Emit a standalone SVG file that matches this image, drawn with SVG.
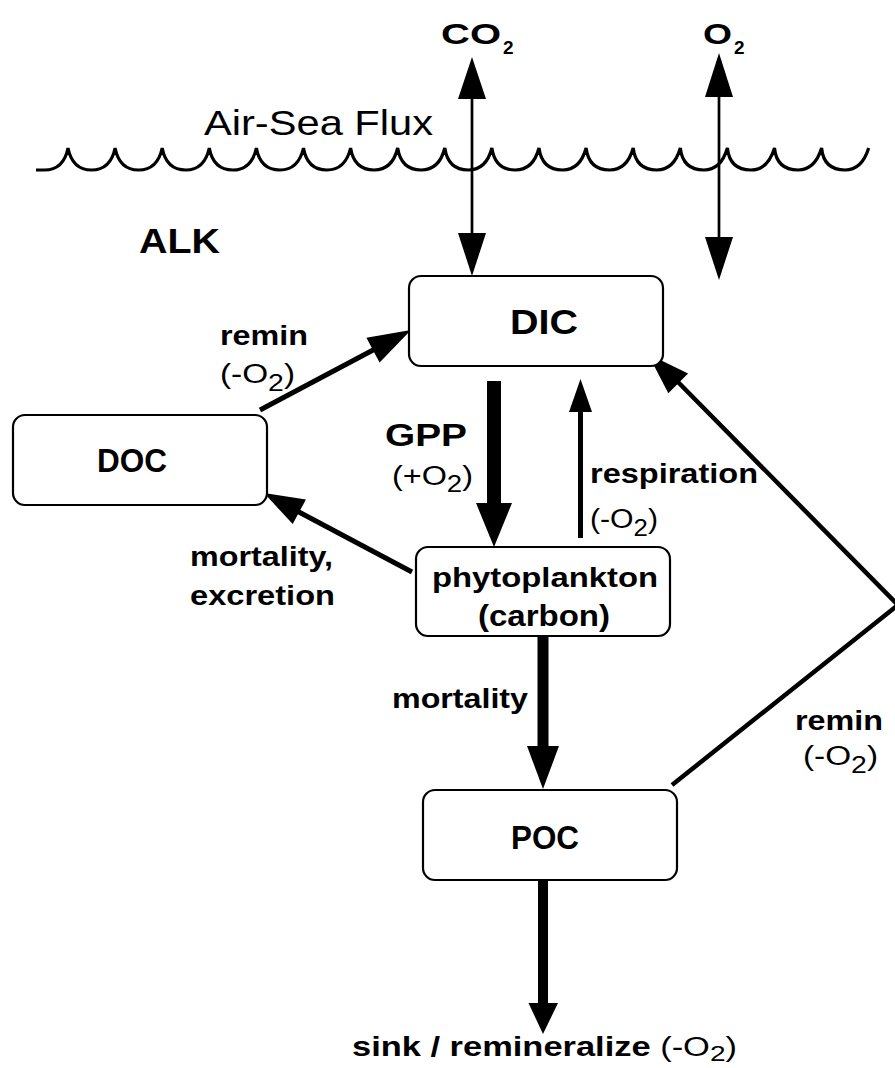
<svg xmlns="http://www.w3.org/2000/svg" width="895" height="1068" viewBox="0 0 895 1068">
<style>
.t{font-family:"Liberation Sans",Arial,Helvetica,sans-serif;fill:#000}
.b{font-weight:bold}
.box{fill:#fff;stroke:#000;stroke-width:2.2}
.ln{fill:none;stroke:#000;stroke-linecap:butt}
.hd{fill:#000;stroke:none}
</style>
<rect width="895" height="1068" fill="#fff"/>
<g id="surface">
<path class="ln" stroke-width="3.2" d="M36,170 L44.5,170 C57,170 65,163 68,148 C71,163 79,170 91.5,170 C104,170 112,163 115.1,148 C118,163 126,170 138.7,170 C151,170 159,163 162.2,148 C165,163 173,170 185.8,170 C198,170 206,163 209.3,148 C212,163 220,170 232.9,170 C245,170 253,163 256.4,148 C259,163 267,170 280,170 C292,170 300,163 303.5,148 C306,163 314,170 327,170 C339,170 347,163 350.6,148 C353,163 361,170 374.1,170 C386,170 394,163 397.7,148 C400,163 408,170 421.2,170 C433,170 441,163 444.8,148 C447,163 455,170 468.3,170 C480,170 488,163 491.9,148 C494,163 502,170 515.4,170 C527,170 535,163 539,148 C541,163 549,170 562.5,170 C574,170 582,163 586.1,148 C588,163 596,170 609.6,170 C621,170 629,163 633.2,148 C635,163 643,170 656.7,170 C668,170 676,163 680.3,148 C682,163 690,170 703.8,170 C715,170 723,163 727.4,148 C729,163 737,170 750.9,170 C762,170 770,163 774.5,148 C776,163 784,170 798,170 C809,170 817,163 821.6,148 C823,163 831,170 845.1,170 C856,170 864,163 868.7,148"/>
<text class="t" x="204" y="135" font-size="35" textLength="229" lengthAdjust="spacingAndGlyphs">Air-Sea Flux</text>
<text class="t b" x="441" y="44" font-size="30" textLength="60" lengthAdjust="spacingAndGlyphs">CO</text>
<text class="t b" x="503" y="54" font-size="19">2</text>
<text class="t b" x="703" y="44" font-size="30" textLength="29" lengthAdjust="spacingAndGlyphs">O</text>
<text class="t b" x="734" y="54" font-size="19">2</text>
</g>
<g id="alk">
<text class="t b" x="139" y="253" font-size="35" textLength="81" lengthAdjust="spacingAndGlyphs">ALK</text>
</g>
<g id="connectors">
<line class="ln" x1="472" y1="98" x2="472" y2="234" stroke-width="2.7"/>
<polygon class="hd" points="472,57 458,99 486,99"/>
<polygon class="hd" points="458,233 486,233 472,276"/>
<line class="ln" x1="719" y1="96" x2="719" y2="238" stroke-width="2.7"/>
<polygon class="hd" points="719,53 705,97 733,97"/>
<polygon class="hd" points="705,237 733,237 719,280"/>
<line class="ln" x1="260" y1="410" x2="375" y2="349" stroke-width="5"/>
<polygon class="hd" points="411,330 366.4,337.7 379.6,362.5"/>
<line class="ln" x1="412" y1="572" x2="297" y2="511" stroke-width="5"/>
<polygon class="hd" points="264,493 305.9,499.5 292.7,524.1"/>
<rect class="hd" x="487" y="381" width="14" height="123"/>
<polygon class="hd" points="476,503 512,503 494,547"/>
<line class="ln" x1="580.5" y1="538" x2="580.5" y2="410" stroke-width="5"/>
<polygon class="hd" points="569,412 592,412 580.5,379"/>
<rect class="hd" x="537.5" y="636" width="11" height="111"/>
<polygon class="hd" points="527,746 559,746 543,789"/>
<polyline class="ln" points="672,785 898,605 676,380" stroke-width="4.5" stroke-linejoin="miter"/>
<polygon class="hd" points="648,354 688.1,373.5 668.3,393.3"/>
<rect class="hd" x="538" y="880" width="10" height="124"/>
<polygon class="hd" points="528.5,1003 558,1003 543,1034"/>
</g>
<g id="labels">
<text class="t b" x="220" y="345" font-size="28" textLength="88" lengthAdjust="spacingAndGlyphs">remin</text>
<text class="t" x="220" y="383" font-size="27" textLength="75" lengthAdjust="spacingAndGlyphs">(-O<tspan font-size="23" dy="8">2</tspan><tspan dy="-8">)</tspan></text>
<text class="t b" x="385" y="446" font-size="32" textLength="82" lengthAdjust="spacingAndGlyphs">GPP</text>
<text class="t" x="392" y="485" font-size="27" textLength="81" lengthAdjust="spacingAndGlyphs">(+O<tspan font-size="23" dy="7">2</tspan><tspan dy="-7">)</tspan></text>
<text class="t b" x="590" y="483" font-size="27" textLength="168" lengthAdjust="spacingAndGlyphs">respiration</text>
<text class="t" x="590" y="528" font-size="27" textLength="68" lengthAdjust="spacingAndGlyphs">(-O<tspan font-size="23" dy="8">2</tspan><tspan dy="-8">)</tspan></text>
<text class="t b" x="190" y="566" font-size="27" textLength="143" lengthAdjust="spacingAndGlyphs">mortality,</text>
<text class="t b" x="190" y="605" font-size="27" textLength="145" lengthAdjust="spacingAndGlyphs">excretion</text>
<text class="t b" x="392" y="708" font-size="27" textLength="136" lengthAdjust="spacingAndGlyphs">mortality</text>
<text class="t b" x="795" y="730" font-size="28" textLength="88" lengthAdjust="spacingAndGlyphs">remin</text>
<text class="t" x="803" y="765" font-size="27" textLength="75" lengthAdjust="spacingAndGlyphs">(-O<tspan font-size="23" dy="8">2</tspan><tspan dy="-8">)</tspan></text>
<text class="t b" x="352" y="1056" font-size="27" textLength="385" lengthAdjust="spacingAndGlyphs">sink / remineralize <tspan font-weight="normal">(-O</tspan><tspan font-weight="normal" font-size="22" dy="5">2</tspan><tspan font-weight="normal" dy="-5">)</tspan></text>
</g>
<g id="DIC">
<rect class="box" x="409" y="276" width="254" height="90" rx="12"/>
<text class="t b" x="510" y="334" font-size="35" textLength="68" lengthAdjust="spacingAndGlyphs">DIC</text>
</g>
<g id="DOC">
<rect class="box" x="13" y="415" width="254" height="90" rx="12"/>
<text class="t b" x="97" y="472" font-size="34" textLength="70" lengthAdjust="spacingAndGlyphs">DOC</text>
</g>
<g id="phytoplankton">
<rect class="box" x="416" y="547" width="254" height="89" rx="12"/>
<text class="t b" x="432" y="587" font-size="28" textLength="226" lengthAdjust="spacingAndGlyphs">phytoplankton</text>
<text class="t b" x="478" y="626" font-size="30" textLength="132" lengthAdjust="spacingAndGlyphs">(carbon)</text>
</g>
<g id="POC">
<rect class="box" x="423" y="790" width="254" height="90" rx="12"/>
<text class="t b" x="511" y="849" font-size="33" textLength="68" lengthAdjust="spacingAndGlyphs">POC</text>
</g>
</svg>
